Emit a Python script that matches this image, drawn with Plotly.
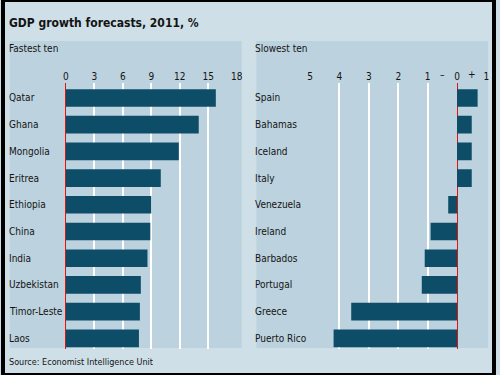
import plotly.graph_objects as go

# ---- data ----
fast_countries = ["Qatar", "Ghana", "Mongolia", "Eritrea", "Ethiopia", "China",
                  "India", "Uzbekistan", "Timor-Leste", "Laos"]
fast_values = [15.8, 14.0, 11.9, 10.0, 9.0, 8.9, 8.6, 7.9, 7.8, 7.7]

slow_countries = ["Spain", "Bahamas", "Iceland", "Italy", "Venezuela", "Ireland",
                  "Barbados", "Portugal", "Greece", "Puerto Rico"]
slow_values = [0.7, 0.5, 0.5, 0.5, -0.3, -0.9, -1.1, -1.2, -3.6, -4.2]

fast_ticks = [0, 3, 6, 9, 12, 15, 18]
fast_ticktext = ["0", "3", "6", "9", "12", "15", "18"]
slow_ticks = [-5, -4, -3, -2, -1, 0, 1]
slow_ticktext = ["5", "4", "3", "2", "1", "0", "1"]

title = "GDP growth forecasts, 2011, %"
left_title = "Fastest ten"
right_title = "Slowest ten"
source = "Source: Economist Intelligence Unit"

# ---- style ----
W, H = 500, 375
OUTER = "#cfdfe7"
PANEL = "#bcd2de"
BAR = "#0e4d68"
RED = "#e3120b"
TXT = "#141414"
FONT = "DejaVu Sans Condensed, DejaVu Sans, sans-serif"


def px(x):
    return x / W


def py(y):
    return 1 - y / H


fig = go.Figure()
fig.add_trace(go.Bar(x=fast_values, y=fast_countries, orientation="h",
                     marker=dict(color=BAR, line=dict(width=0)),
                     xaxis="x", yaxis="y", showlegend=False, hoverinfo="x+y"))
fig.add_trace(go.Bar(x=slow_values, y=slow_countries, orientation="h",
                     marker=dict(color=BAR, line=dict(width=0)),
                     xaxis="x2", yaxis="y2", showlegend=False, hoverinfo="x+y"))

ydom = [py(348.5), py(83)]
yrange = [9.38, -0.56]

axis_common = dict(side="top", showgrid=True, gridcolor="white", gridwidth=1.5,
                   zeroline=True, zerolinecolor=RED, zerolinewidth=1.2,
                   showline=False, ticks="", tickfont=dict(family=FONT, size=10, color=TXT),
                   fixedrange=True)

fig.update_layout(
    width=W, height=H, autosize=False,
    margin=dict(l=0, r=0, t=0, b=0),
    paper_bgcolor=OUTER, plot_bgcolor="rgba(0,0,0,0)",
    bargap=0.34,
    font=dict(family=FONT, color=TXT),
    xaxis=dict(domain=[px(64), px(238)], range=[0, 18], tickvals=fast_ticks,
               ticktext=fast_ticktext, anchor="y", **axis_common),
    yaxis=dict(domain=ydom, range=yrange, type="category", categoryarray=fast_countries,
               showticklabels=False, showgrid=False, zeroline=False, ticks="",
               anchor="x", fixedrange=True),
    xaxis2=dict(domain=[px(312.7), px(492.3)], range=[-5, 1], tickvals=slow_ticks,
                ticktext=slow_ticktext, anchor="y2", **axis_common),
    yaxis2=dict(domain=ydom, range=yrange, type="category", categoryarray=slow_countries,
                showticklabels=False, showgrid=False, zeroline=False, ticks="",
                anchor="x2", fixedrange=True),
)

shapes = [
    dict(type="rect", xref="paper", yref="paper", x0=px(7), x1=px(243), y0=py(348), y1=py(41),
         fillcolor=PANEL, line=dict(width=0), layer="below"),
    dict(type="rect", xref="paper", yref="paper", x0=px(258), x1=px(494), y0=py(348), y1=py(41),
         fillcolor=PANEL, line=dict(width=0), layer="below"),
    dict(type="rect", xref="paper", yref="paper", x0=0, x1=1, y0=0, y1=1,
         fillcolor="rgba(0,0,0,0)", line=dict(color="black", width=4), layer="above"),
]
fig.update_layout(shapes=shapes)

ann = []
ann.append(dict(text="<b>" + title + "</b>", xref="paper", yref="paper", x=px(4), y=py(23),
                xanchor="left", yanchor="middle", showarrow=False,
                font=dict(family=FONT, size=12, color=TXT)))
ann.append(dict(text=left_title, xref="paper", yref="paper", x=px(4), y=py(48),
                xanchor="left", yanchor="middle", showarrow=False,
                font=dict(family=FONT, size=10, color=TXT)))
ann.append(dict(text=right_title, xref="paper", yref="paper", x=px(255), y=py(48),
                xanchor="left", yanchor="middle", showarrow=False,
                font=dict(family=FONT, size=10, color=TXT)))
ann.append(dict(text=source, xref="paper", yref="paper", x=px(4), y=py(362),
                xanchor="left", yanchor="middle", showarrow=False,
                font=dict(family=FONT, size=9, color=TXT)))
for c in fast_countries:
    ann.append(dict(text=c, xref="paper", yref="y", x=px(4), y=c, xanchor="left",
                    yanchor="middle", showarrow=False, font=dict(family=FONT, size=10, color=TXT)))
for c in slow_countries:
    ann.append(dict(text=c, xref="paper", yref="y2", x=px(255), y=c, xanchor="left",
                    yanchor="middle", showarrow=False, font=dict(family=FONT, size=10, color=TXT)))
for xv, t in [(-0.5, "–"), (0.5, "+")]:
    ann.append(dict(text=t, xref="x2", yref="paper", x=xv, y=py(75), xanchor="center",
                    yanchor="middle", showarrow=False, font=dict(family=FONT, size=10, color=TXT)))
fig.update_layout(annotations=ann)

fig.write_html("out.html", config={"displayModeBar": False},
               post_script="document.body.style.margin='0';document.body.style.overflow='hidden';")
